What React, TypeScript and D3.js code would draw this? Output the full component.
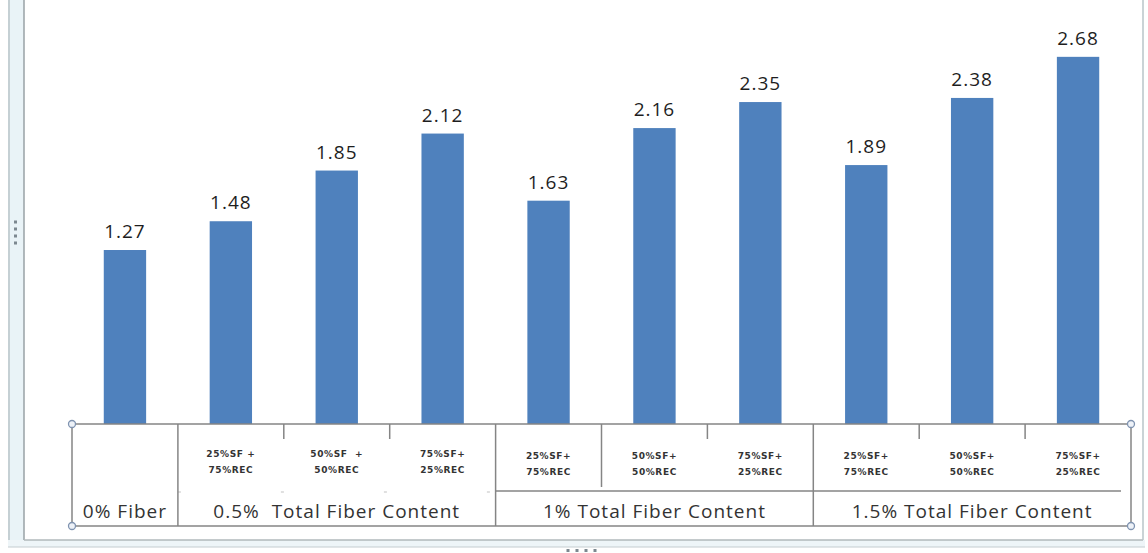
import React, { useEffect, useRef } from 'react';
import * as d3 from 'd3';

// one bar per mix, in order
const mixTop = ['', '25%SF +', '50%SF  +', '75%SF+', '25%SF+', '50%SF+', '75%SF+', '25%SF+', '50%SF+', '75%SF+'];
const mixBottom = ['', '75%REC', '50%REC', '25%REC', '75%REC', '50%REC', '25%REC', '75%REC', '50%REC', '25%REC'];
const values = [1.27, 1.48, 1.85, 2.12, 1.63, 2.16, 2.35, 1.89, 2.38, 2.68];

const groupLabels = ['0% Fiber', '0.5%  Total Fiber Content', '1% Total Fiber Content', '1.5% Total Fiber Content'];
const groupStart = [0, 1, 4, 7];
const groupEnd = [1, 4, 7, 10];

const App: React.FC = () => {
  const svgRef = useRef<SVGSVGElement>(null);

  useEffect(() => {
    if (!svgRef.current) return;
    const width = 1148;
    const height = 553;
    const left = 72;
    const right = 1131;
    const baseY = 424;
    const tableBottom = 526;
    const midY = 491;
    const lineColor = '#858585';

    const svg = d3.select(svgRef.current);
    svg.selectAll('*').remove();

    svg.append('rect').attr('width', width).attr('height', height).attr('fill', '#fff');

    // chart frame (left / bottom / right)
    svg.append('rect').attr('x', 8).attr('y', 0).attr('width', 16).attr('height', 546).attr('fill', '#e9f3f7');
    svg.append('line').attr('x1', 9).attr('x2', 9).attr('y1', 0).attr('y2', 546).attr('stroke', '#b8c4c8').attr('stroke-width', 1.5);
    svg.append('line').attr('x1', 24).attr('x2', 24).attr('y1', 0).attr('y2', 540).attr('stroke', '#98a2a6').attr('stroke-width', 1.5);
    svg.append('rect').attr('x', 8).attr('y', 540).attr('width', 1137).attr('height', 7).attr('fill', '#eef5f8');
    svg.append('line').attr('x1', 24).attr('x2', 1143).attr('y1', 540).attr('y2', 540).attr('stroke', '#b0b8bb').attr('stroke-width', 1.5);
    svg.append('line').attr('x1', 8).attr('x2', 1145).attr('y1', 547).attr('y2', 547).attr('stroke', '#c4ccd0').attr('stroke-width', 1);
    svg.append('line').attr('x1', 1143).attr('x2', 1143).attr('y1', 0).attr('y2', 540).attr('stroke', '#b8c4c8').attr('stroke-width', 1.5);
    [222, 229, 236, 243].forEach(y => {
      svg.append('rect').attr('x', 14).attr('y', y - 1.5).attr('width', 3).attr('height', 3).attr('fill', '#7c8890');
    });
    [568, 577, 586, 595].forEach(x => {
      svg.append('rect').attr('x', x - 1.5).attr('y', 549).attr('width', 3).attr('height', 3).attr('fill', '#7c8890');
    });

    const idx = values.map((_, i) => String(i));
    const x = d3.scaleBand().domain(idx).range([left, right]).paddingInner(0.6).paddingOuter(0.3);
    const y = d3.scaleLinear().domain([0, 3]).range([baseY, 13]);
    const step = x.step();
    const edge = (k: number) => left + k * step;

    // bars
    svg.selectAll('rect.bar')
      .data(values)
      .enter()
      .append('rect')
      .attr('class', 'bar')
      .attr('x', (_, i) => x(String(i)) as number)
      .attr('y', d => y(d))
      .attr('width', x.bandwidth())
      .attr('height', d => baseY - y(d))
      .attr('fill', '#4f81bd');

    svg.selectAll('text.val')
      .data(values)
      .enter()
      .append('text')
      .attr('class', 'val')
      .attr('x', (_, i) => (x(String(i)) as number) + x.bandwidth() / 2)
      .attr('y', d => y(d) - 12)
      .attr('text-anchor', 'middle')
      .attr('font-family', '"Open Sans", Lato, sans-serif')
      .attr('font-size', 19)
      .attr('letter-spacing', 1)
      .attr('fill', '#1e1e1e')
      .text(d => d.toFixed(2));

    // data table below the axis
    const g = svg.append('g').attr('stroke', lineColor).attr('stroke-width', 1.5);
    g.append('line').attr('x1', left).attr('x2', right).attr('y1', baseY).attr('y2', baseY);
    g.append('line').attr('x1', left).attr('x2', right).attr('y1', tableBottom).attr('y2', tableBottom);
    g.append('line').attr('x1', edge(4)).attr('x2', right - 10).attr('y1', midY).attr('y2', midY);
    g.append('line').attr('x1', edge(1)).attr('x2', edge(4)).attr('y1', midY + 1).attr('y2', midY + 1)
      .attr('stroke', '#d6d6d6').attr('stroke-dasharray', '3,100');
    groupEnd.forEach(k => {
      g.append('line').attr('x1', edge(k)).attr('x2', edge(k)).attr('y1', baseY).attr('y2', tableBottom);
    });
    g.append('line').attr('x1', left).attr('x2', left).attr('y1', baseY).attr('y2', tableBottom);
    // dividers inside groups
    [2, 3, 5, 6, 8, 9].forEach(k => {
      const len = k === 5 ? 63 : 15;
      g.append('line').attr('x1', edge(k)).attr('x2', edge(k)).attr('y1', baseY).attr('y2', baseY + len);
    });

    [[left, baseY], [left, tableBottom], [right, baseY], [right, tableBottom]].forEach(([cx, cy]) => {
      svg.append('circle').attr('cx', cx).attr('cy', cy).attr('r', 3.5)
        .attr('fill', '#eef2f8').attr('stroke', '#7f93b0').attr('stroke-width', 1.3);
    });

    const sub = svg.append('g')
      .attr('font-family', '"DejaVu Sans", sans-serif')
      .attr('font-size', 9)
      .attr('font-weight', 'bold')
      .attr('letter-spacing', 0.6)
      .attr('fill', '#333')
      .attr('text-anchor', 'middle');
    mixTop.forEach((t, i) => {
      if (!t) return;
      const cx = edge(i) + step / 2;
      sub.append('text').attr('x', cx).attr('y', 457 + (i >= 4 ? 2 : 0)).style('white-space', 'pre').text(t);
      sub.append('text').attr('x', cx).attr('y', 473 + (i >= 4 ? 2 : 0)).text(mixBottom[i]);
    });

    groupLabels.forEach((label, j) => {
      const cx = (edge(groupStart[j]) + edge(groupEnd[j])) / 2;
      svg.append('text')
        .attr('x', cx)
        .attr('y', 518)
        .attr('text-anchor', 'middle')
        .attr('font-family', '"Open Sans", Lato, sans-serif')
        .attr('font-size', 19)
        .attr('letter-spacing', 1)
        .attr('fill', '#333')
        .style('white-space', 'pre')
        .text(label);
    });
  }, []);

  return (
    <svg ref={svgRef} width={1148} height={553} style={{ position: 'absolute', left: 0, top: 0 }}></svg>
  );
};

export default App;
